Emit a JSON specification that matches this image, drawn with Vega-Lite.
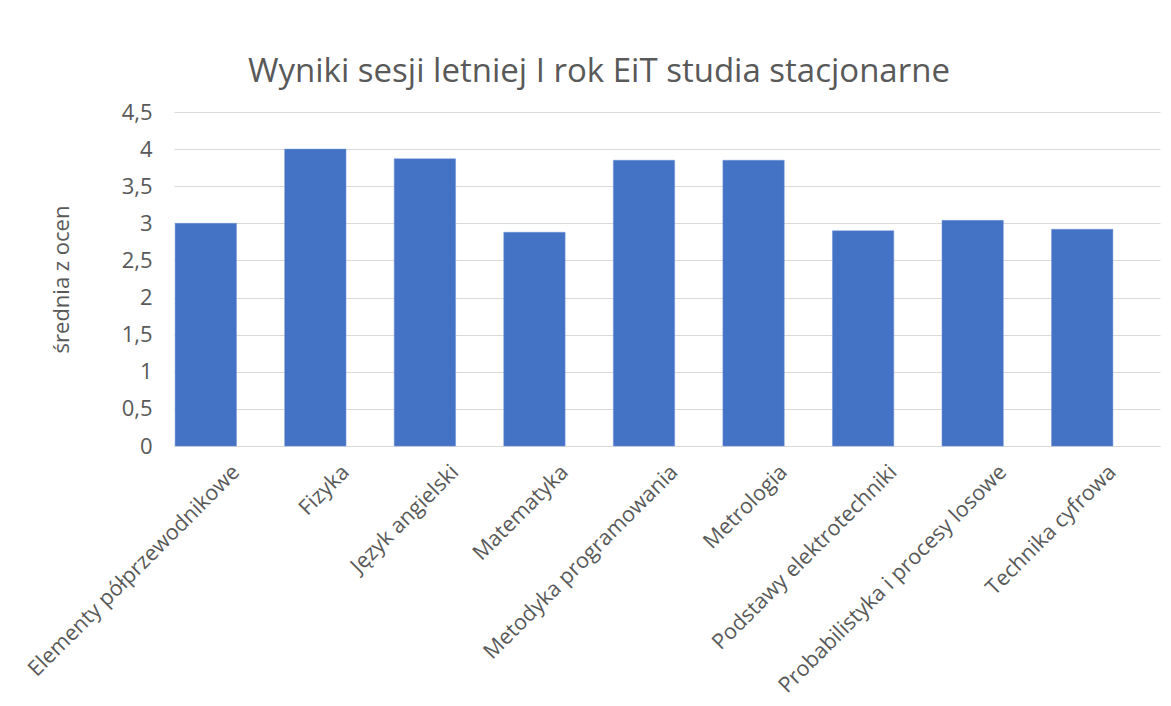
{
  "$schema": "https://vega.github.io/schema/vega-lite/v6.json",
  "autosize": {"type": "none"},
  "padding": {"left": 174, "top": 112, "right": 11, "bottom": 260},
  "width": 986,
  "height": 334,
  "background": "white",
  "title": {
    "text": "Wyniki sesji letniej I rok EiT studia stacjonarne",
    "fontSize": 33,
    "font": "Open Sans",
    "fontWeight": "normal",
    "color": "#595959",
    "anchor": "middle",
    "offset": 12,
    "dx": -68
  },
  "data": {
    "values": [
      {"przedmiot": "Elementy półprzewodnikowe", "srednia": 3.0},
      {"przedmiot": "Fizyka", "srednia": 4.0},
      {"przedmiot": "Język angielski", "srednia": 3.87},
      {"przedmiot": "Matematyka", "srednia": 2.88},
      {"przedmiot": "Metodyka programowania", "srednia": 3.85},
      {"przedmiot": "Metrologia", "srednia": 3.85},
      {"przedmiot": "Podstawy elektrotechniki", "srednia": 2.9},
      {"przedmiot": "Probabilistyka i procesy losowe", "srednia": 3.04},
      {"przedmiot": "Technika cyfrowa", "srednia": 2.92}
    ]
  },
  "mark": {"type": "bar", "color": "#4472C4", "stroke": "#6f93d8", "strokeWidth": 0.5, "width": {"band": 0.56}, "xOffset": -23},
  "encoding": {
    "x": {
      "field": "przedmiot",
      "type": "nominal",
      "sort": null,
      "scale": {"paddingInner": 0, "paddingOuter": 0},
      "axis": {
        "title": null,
        "labelAngle": -45,
        "labelAlign": "right",
        "labelBaseline": "top",
        "labelFontSize": 21.5,
        "labelFont": "Open Sans",
        "labelColor": "#595959",
        "labelPadding": 15,
        "ticks": false,
        "domainColor": "#d9d9d9",
        "labelLimit": 500
      }
    },
    "y": {
      "field": "srednia",
      "type": "quantitative",
      "scale": {"domain": [0, 4.5], "nice": false},
      "axis": {
        "title": "średnia z ocen",
        "titleFont": "Open Sans",
        "titleFontSize": 22,
        "titleFontWeight": "normal",
        "titleColor": "#595959",
        "titleX": -101,
        "titleY": 167,
        "titleAngle": -90,
        "values": [0, 0.5, 1, 1.5, 2, 2.5, 3, 3.5, 4, 4.5],
        "labelExpr": "replace(format(datum.value, '.1~f'), '.', ',')",
        "labelFontSize": 22,
        "labelFont": "Open Sans",
        "labelColor": "#595959",
        "labelPadding": 22,
        "ticks": false,
        "domain": false,
        "gridColor": "#d9d9d9",
        "gridWidth": 1
      }
    }
  },
  "config": {"view": {"stroke": null}}
}
